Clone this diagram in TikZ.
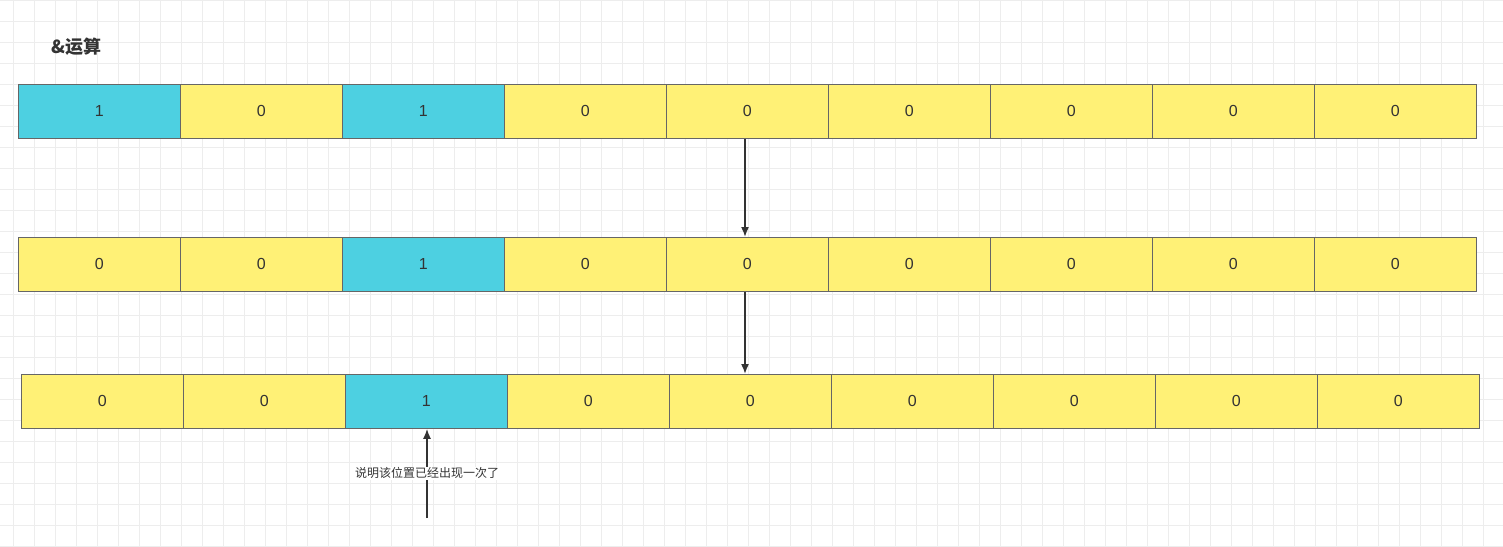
\documentclass[tikz,border=0pt]{standalone}
\usepackage{fontspec}
\setmainfont{Liberation Sans}
\newfontfamily\cjk{Noto Sans CJK SC}
\begin{document}
\begin{tikzpicture}[x=1pt,y=-1pt,
  cell/.style={draw=black!60,line width=0.8pt,minimum width=162pt,minimum height=54pt,anchor=north west,inner sep=0pt,font=\fontsize{16}{18}\selectfont,text=black!80},
  cy/.style={cell,fill=cyanc}, ye/.style={cell,fill=yellowc},
  arr/.style={draw=black!80,line width=1.6pt,-{Latex[length=10pt,width=8pt]}}]
\usetikzlibrary{arrows.meta}
\definecolor{cyanc}{HTML}{4DD0E1}
\definecolor{yellowc}{HTML}{FFF176}
\path[use as bounding box,fill=white] (0,0) rectangle (1503,546);
\foreach \x in {13,34,...,1503} \draw[black!7,line width=0.6pt] (\x,0) -- (\x,546);
\foreach \y in {0,21,...,546} \draw[black!7,line width=0.6pt] (0,\y) -- (1503,\y);
\node[anchor=west,font=\cjk\bfseries\fontsize{18}{20}\selectfont,text=black!80] (title) at (48,47) {\&运算};
\foreach \v [count=\i from 0] in {1,0,1,0,0,0,0,0,0} {
  \ifnum\v=1 \node[cy] (a\i) at (18+162*\i,84) {\v};\else \node[ye] (a\i) at (18+162*\i,84) {\v};\fi }
\foreach \v [count=\i from 0] in {0,0,1,0,0,0,0,0,0} {
  \ifnum\v=1 \node[cy] (b\i) at (18+162*\i,237) {\v};\else \node[ye] (b\i) at (18+162*\i,237) {\v};\fi }
\foreach \v [count=\i from 0] in {0,0,1,0,0,0,0,0,0} {
  \ifnum\v=1 \node[cy] (c\i) at (21+162*\i,374) {\v};\else \node[ye] (c\i) at (21+162*\i,374) {\v};\fi }
\draw[arr] (a4.south -| 745,0) -- (b4.north -| 745,0);
\draw[arr] (b4.south -| 745,0) -- (c4.north -| 745,0);
\coordinate (s) at (427,518);
\draw[arr] (s) -- (c2.south -| 427,0) node[pos=0.5,fill=white,inner sep=1pt,font=\cjk\fontsize{12}{14}\selectfont,text=black!80] (lbl) {说明该位置已经出现一次了};
\end{tikzpicture}
\end{document}
